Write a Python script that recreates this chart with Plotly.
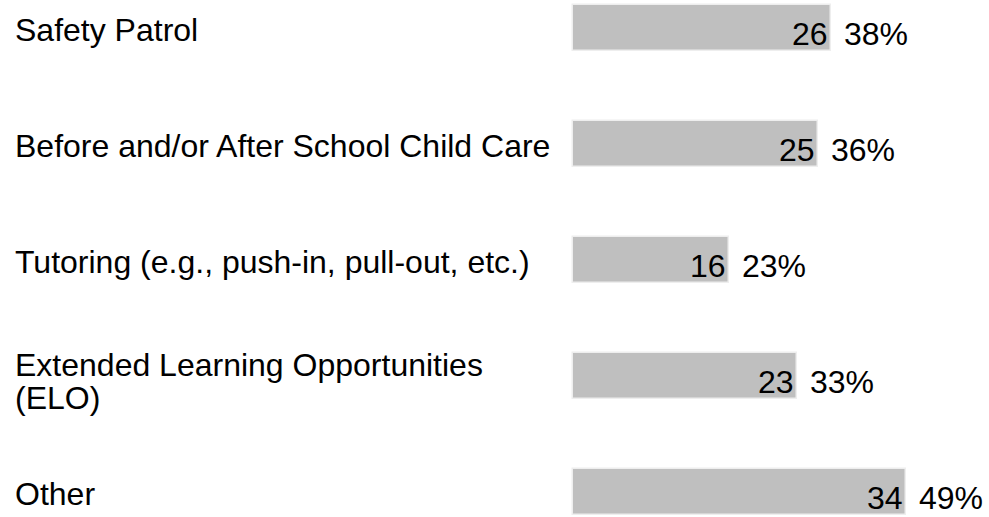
import plotly.graph_objects as go

categories = [
    "Safety Patrol",
    "Before and/or After School Child Care",
    "Tutoring (e.g., push-in, pull-out, etc.)",
    "Extended Learning Opportunities<br>(ELO)",
    "Other",
]
counts = [26, 25, 16, 23, 34]
percents = [38, 36, 23, 33, 49]

FONT = "Liberation Sans, Arial, sans-serif"
FS = 32

fig = go.Figure()
fig.add_trace(go.Bar(
    y=list(range(len(categories))),
    x=percents,
    orientation="h",
    width=0.405,
    marker=dict(color="#bfbfbf", line=dict(color="#eeeeee", width=1.5)),
    hoverinfo="skip",
))

annotations = []
for i, (cat, n, p) in enumerate(zip(categories, counts, percents)):
    # count inside bar end
    annotations.append(dict(
        x=p, y=i, xref="x", yref="y", text=str(n), showarrow=False,
        xanchor="right", yanchor="middle", xshift=-1, yshift=-6,
        font=dict(family=FONT, size=FS, color="#000000"),
    ))
    # percent outside bar
    annotations.append(dict(
        x=p, y=i, xref="x", yref="y", text=f"{p}%", showarrow=False,
        xanchor="left", yanchor="middle", xshift=11, yshift=-6,
        font=dict(family=FONT, size=FS, color="#000000"),
    ))
    # category label (lines placed individually for tight line spacing)
    lines = cat.split("<br>")
    nl = len(lines)
    for j, line in enumerate(lines):
        off = (j - (nl - 1) / 2) * 33
        annotations.append(dict(
            x=12.5 / 989, y=i, xref="paper", yref="y", text=line, showarrow=False,
            xanchor="left", yanchor="middle", yshift=-2 - off - (3 if nl > 1 else 0),
            font=dict(family=FONT, size=FS, color="#000000"),
        ))

px_per = 333 / 49
fig.update_layout(
    width=989, height=517,
    margin=dict(l=0, r=0, t=0, b=0),
    paper_bgcolor="white", plot_bgcolor="white",
    showlegend=False,
    xaxis=dict(range=[-573 / px_per, (989 - 573) / px_per], visible=False, fixedrange=True),
    yaxis=dict(range=[4 + 25 / 116, -28 / 116], visible=False, fixedrange=True),
    annotations=annotations,
    bargap=0,
)

fig.write_html(
    "out.html",
    config={"displayModeBar": False},
    post_script="document.body.style.margin='0';document.body.style.overflow='hidden';",
)
